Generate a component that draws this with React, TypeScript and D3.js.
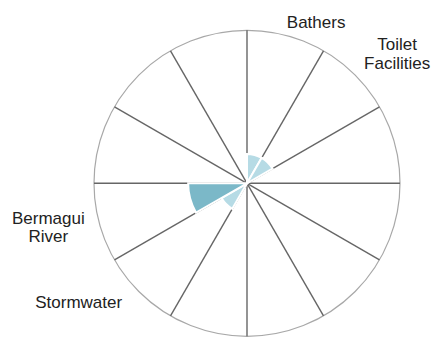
import React from "react";
import * as d3 from "d3";

// Data
const categories = ["Bathers", "Toilet Facilities", "Stormwater", "Bermagui River"];
const sectorIndex = [0, 1, 7, 8]; // which of the 12 x 30° sectors
const values = [1, 1, 1, 2];
const sectorCount = 12;
const maxValue = 5.2;

// Label layout (angle in degrees clockwise from north, radius in px)
const labelAngles = [23.2, 49.1, 234.8, 257.6];
const labelRadii = [175.4, 198.6, 206, 203.4];

const W = 433;
const H = 338;
const cx = 247;
const cy = 183.3;
const R = 153;

export default function App() {
  const r = d3.scaleLinear().domain([0, maxValue]).range([0, R]);
  const color = d3.scaleOrdinal<number, string>().domain([1, 2]).range(["#b6dbe5", "#7bb8c8"]);
  const step = (2 * Math.PI) / sectorCount;
  const arc = d3.arc<any>();
  const spokes = d3.range(sectorCount).map((i) => i * step);
  const fontSize = 17;
  const lineH = 18.5;

  return (
    <svg width={W} height={H} style={{ position: "absolute", left: 0, top: 0 }}>
      <g transform={`translate(${cx},${cy})`}>
        <circle r={R} fill="white" stroke="#a8a8a8" strokeWidth={1.2} />
        {spokes.map((a, i) => (
          <line
            key={i}
            x1={0}
            y1={0}
            x2={R * Math.sin(a)}
            y2={-R * Math.cos(a)}
            stroke="#666"
            strokeWidth={1.4}
          />
        ))}
        {categories.map((c, i) => (
          <path
            key={c}
            d={
              arc({
                innerRadius: 0,
                outerRadius: r(values[i]),
                startAngle: sectorIndex[i] * step,
                endAngle: (sectorIndex[i] + 1) * step,
              }) as string
            }
            fill={color(values[i])}
            stroke="white"
            strokeWidth={2}
          />
        ))}
        {categories.map((c, i) => {
          const a = (labelAngles[i] * Math.PI) / 180;
          const x = labelRadii[i] * Math.sin(a);
          const y = -labelRadii[i] * Math.cos(a);
          const lines = c.split(" ");
          return (
            <text
              key={c}
              x={x}
              textAnchor="middle"
              fontFamily="Arial, 'Liberation Sans', sans-serif"
              fontSize={fontSize}
              fill="#222"
            >
              {lines.map((l, j) => (
                <tspan key={j} x={x} y={y + (j - (lines.length - 1) / 2) * lineH + 6}>
                  {l}
                </tspan>
              ))}
            </text>
          );
        })}
      </g>
    </svg>
  );
}
